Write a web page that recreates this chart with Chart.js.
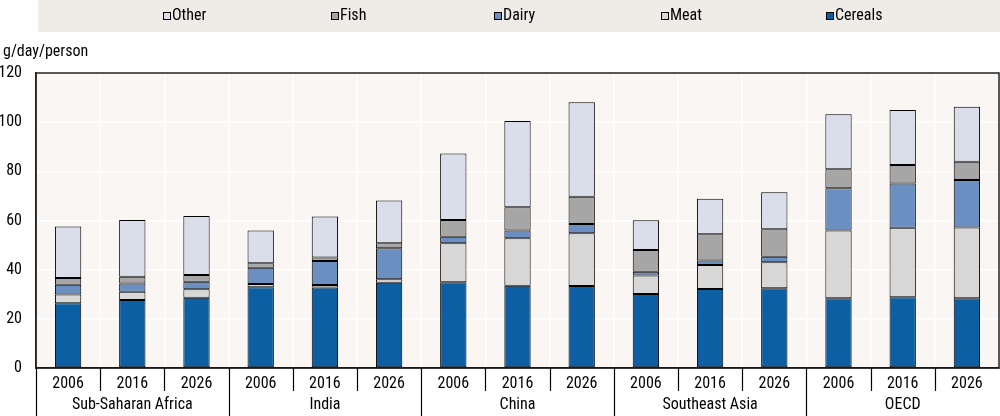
<!DOCTYPE html>
<html>
<head>
<meta charset="utf-8">
<script src="https://cdn.jsdelivr.net/npm/chart.js@4.4.1/dist/chart.umd.min.js"></script>
<style>
  html, body { margin: 0; padding: 0; background: #fff; }
  #wrap { width: 1000px; height: 416px; position: relative; }
</style>
</head>
<body>
<div id="wrap"><canvas id="c" width="1000" height="416"></canvas></div>
<script>
// --- data (g/day/person) ---
const regions = ['Sub-Saharan Africa', 'India', 'China', 'Southeast Asia', 'OECD'];
const years = ['2006', '2016', '2026'];
const cereals = [26.3, 27.7, 28.6, 32.8, 32.7, 34.7, 34.9, 33.5, 33.4, 30.1, 32.1, 32.4, 28.4, 28.8, 28.4];
const meat    = [3.6, 3.3, 3.4, 1.4, 1.1, 1.4, 15.8, 19.3, 21.4, 7.5, 9.8, 10.6, 27.5, 28.3, 28.8];
const dairy   = [4.0, 3.4, 3.1, 6.6, 9.7, 12.6, 2.7, 3.1, 3.8, 1.6, 1.8, 2.3, 17.2, 18.0, 19.3];
const fish    = [2.7, 2.7, 2.7, 1.8, 1.5, 2.0, 6.8, 9.5, 11.1, 8.8, 10.7, 11.1, 7.7, 7.5, 7.4];
const other   = [21.0, 23.1, 24.0, 13.3, 16.6, 17.4, 27.1, 35.1, 38.4, 12.1, 14.4, 15.1, 22.4, 22.4, 22.4];
const yTicks = [0, 20, 40, 60, 80, 100, 120];
const yUnit = 'g/day/person';

const FONT = "'Liberation Sans Narrow', 'Arial Narrow', 'Roboto Condensed', sans-serif";
const labels = regions.flatMap(() => years);

const series = [
  { label: 'Cereals', data: cereals, color: '#0c5fa3' },
  { label: 'Meat',    data: meat,    color: '#d7d7d7' },
  { label: 'Dairy',   data: dairy,   color: '#6a8fc0' },
  { label: 'Fish',    data: fish,    color: '#a6a6a6' },
  { label: 'Other',   data: other,   color: '#d9deea' }
];

// background, frame, legend, group labels
const decor = {
  id: 'decor',
  beforeDraw(chart) {
    const { ctx, chartArea: a } = chart;
    ctx.save();
    ctx.fillStyle = '#efece8';
    ctx.fillRect(38, 0, 962, 32);
    ctx.fillStyle = '#f9f6f3';
    ctx.fillRect(a.left, a.top, a.right - a.left, a.bottom - a.top);
    ctx.restore();
  },
  afterDraw(chart) {
    const { ctx, chartArea: a } = chart;
    const x = chart.scales.x;
    ctx.save();
    // frame
    ctx.strokeStyle = '#222';
    ctx.lineWidth = 1.5;
    ctx.strokeRect(a.left, a.top, a.right - a.left, a.bottom - a.top);
    // category separators below the axis
    ctx.strokeStyle = '#000';
    ctx.lineWidth = 1.2;
    for (let i = 0; i <= labels.length; i++) {
      let px;
      if (i === 0) px = a.left;
      else if (i === labels.length) px = a.right;
      else px = (x.getPixelForValue(i - 1) + x.getPixelForValue(i)) / 2;
      const full = i % years.length === 0;
      if (i === labels.length) continue;
      ctx.beginPath();
      ctx.moveTo(Math.round(px) + 0.5, a.bottom);
      ctx.lineTo(Math.round(px) + 0.5, full ? 416 : a.bottom + 23);
      ctx.stroke();
    }
    // group labels
    ctx.fillStyle = '#000';
    ctx.font = '16px ' + FONT;
    ctx.textAlign = 'center';
    ctx.textBaseline = 'middle';
    regions.forEach((r, g) => {
      const c = (x.getPixelForValue(g * 3) + x.getPixelForValue(g * 3 + 2)) / 2;
      ctx.fillText(r, c, 405);
    });
    // unit label
    ctx.textAlign = 'left';
    ctx.fillText(yUnit, 3, 52);
    // legend (reverse stacking order)
    const legendX = [163, 331, 494, 661, 826];
    series.slice().reverse().forEach((s, i) => {
      const lx = legendX[i];
      ctx.fillStyle = s.color;
      ctx.fillRect(lx, 12, 8, 8);
      ctx.strokeStyle = '#000';
      ctx.lineWidth = 1;
      ctx.strokeRect(lx + 0.5, 12.5, 7, 7);
      ctx.fillStyle = '#000';
      ctx.fillText(s.label, lx + 9, 16);
    });
    ctx.restore();
  }
};

new Chart(document.getElementById('c'), {
  type: 'bar',
  data: {
    labels: labels,
    datasets: series.map(s => ({
      label: s.label,
      data: s.data,
      backgroundColor: s.color,
      borderColor: '#000',
      borderWidth: 1,
      borderSkipped: false,
      barPercentage: 0.41,
      categoryPercentage: 1
    }))
  },
  options: {
    responsive: false,
    animation: false,
    devicePixelRatio: 1,
    layout: { padding: { top: 73, right: 1, left: 0, bottom: 0 } },
    plugins: { legend: { display: false }, tooltip: { enabled: false } },
    scales: {
      x: {
        stacked: true,
        offset: true,
        grid: { color: '#ffffff', lineWidth: 1.5, drawTicks: false, offset: true },
        border: { display: true, color: '#000', width: 1.5 },
        ticks: { color: '#000', font: { size: 16, family: FONT }, padding: 6, maxRotation: 0, autoSkip: false },
        afterFit(s) { s.height = 48; }
      },
      y: {
        stacked: true,
        min: 0, max: 120,
        afterBuildTicks(s) { s.ticks = yTicks.map(v => ({ value: v })); },
        grid: { color: '#ffffff', lineWidth: 1.5, drawTicks: false },
        border: { display: true, color: '#222', width: 1.5 },
        ticks: { color: '#000', font: { size: 16, family: FONT }, padding: 14 },
        afterFit(s) { s.width = 36; }
      }
    }
  },
  plugins: [decor]
});
</script>
</body>
</html>
